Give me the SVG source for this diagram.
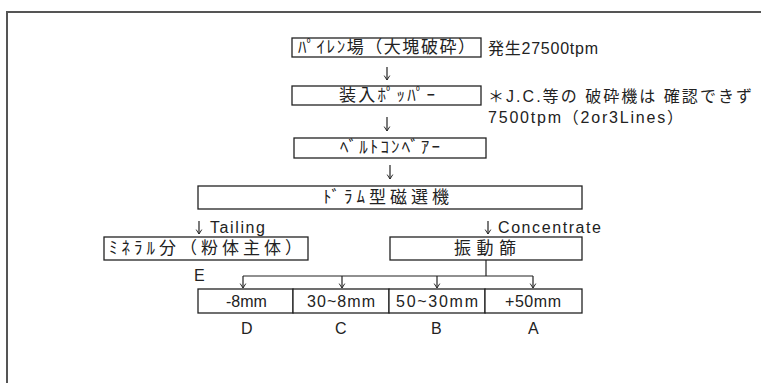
<svg xmlns="http://www.w3.org/2000/svg" width="761" height="383" viewBox="0 0 761 383">
<defs>
<style>
.box{fill:#fff;stroke:#222;stroke-width:1.3}
.t{font-family:"Liberation Sans","Noto Sans CJK JP",sans-serif;font-size:16px;fill:#222}
.j{font-size:17px}
.ln{stroke:#222;stroke-width:1.2;fill:none}
</style>
<marker id="ah" viewBox="0 0 10 10" refX="9" refY="5" markerWidth="8" markerHeight="8" orient="auto" markerUnits="userSpaceOnUse">
<path d="M3.5,1.5 L9,5 L3.5,8.5" fill="none" stroke="#222" stroke-width="1.2"/>
</marker>
</defs>
<rect width="761" height="383" fill="#fff"/>
<path d="M7,390 V12 H770" fill="none" stroke="#555" stroke-width="2"/>

<g id="n1"><rect class="box" x="292" y="38" width="189" height="19"/><text class="t j" x="298" y="53" textLength="177" lengthAdjust="spacing">ﾊﾟｲﾚﾝ場（大塊破砕）</text></g>
<g id="n1note"><text class="t" x="488" y="54" textLength="110" lengthAdjust="spacing">発生27500tpm</text></g>
<g id="n2"><rect class="box" x="292" y="86" width="189" height="19"/><text class="t j" x="339" y="101" textLength="96" lengthAdjust="spacing">装入ﾎﾟｯﾊﾟｰ</text></g>
<g id="n2note"><text class="t" x="488" y="102" textLength="264" lengthAdjust="spacing">＊J.C.等の 破砕機は 確認できず</text><text class="t" x="488" y="123" textLength="195" lengthAdjust="spacing">7500tpm（2or3Lines）</text></g>
<g id="n3"><rect class="box" x="294" y="138" width="192" height="20"/><text class="t j" x="340" y="153" textLength="100" lengthAdjust="spacing">ﾍﾞﾙﾄｺﾝﾍﾞｱｰ</text></g>
<g id="n4"><rect class="box" x="198" y="186" width="384" height="23"/><text class="t j" x="323" y="203" textLength="126" lengthAdjust="spacing">ﾄﾞﾗﾑ型磁選機</text></g>
<g id="n5"><rect class="box" x="104" y="237" width="204" height="23"/><text class="t j" x="109" y="254" textLength="193" lengthAdjust="spacing">ﾐﾈﾗﾙ分（粉体主体）</text><text class="t" x="194" y="281">E</text></g>
<g id="n6"><rect class="box" x="390" y="237" width="192" height="23"/><text class="t j" x="454" y="254" textLength="62" lengthAdjust="spacing">振動篩</text></g>
<g id="n7">
<rect class="box" x="198" y="289" width="95" height="24"/>
<rect class="box" x="293" y="289" width="96" height="24"/>
<rect class="box" x="389" y="289" width="96" height="24"/>
<rect class="box" x="485" y="289" width="97" height="24"/>
<text class="t" x="226" y="307">-8mm</text>
<text class="t" x="307" y="307" textLength="68" lengthAdjust="spacing">30~8mm</text>
<text class="t" x="396" y="307" textLength="82" lengthAdjust="spacing">50~30mm</text>
<text class="t" x="505" y="307" textLength="56" lengthAdjust="spacing">+50mm</text>
<text class="t" x="241" y="334">D</text>
<text class="t" x="335" y="334">C</text>
<text class="t" x="431" y="334">B</text>
<text class="t" x="528" y="334">A</text>
</g>
<g id="connectors">
<path class="ln" d="M387,67 V80" marker-end="url(#ah)"/>
<path class="ln" d="M387,117 V131" marker-end="url(#ah)"/>
<path class="ln" d="M390,165 V179" marker-end="url(#ah)"/>
<path class="ln" d="M199,221 V234" marker-end="url(#ah)"/>
<text class="t" x="210" y="233" textLength="55" lengthAdjust="spacing">Tailing</text>
<path class="ln" d="M488,221 V234" marker-end="url(#ah)"/>
<text class="t" x="498" y="233" textLength="103" lengthAdjust="spacing">Concentrate</text>
<path class="ln" d="M486,260 V276"/>
<path class="ln" d="M243,276 H533"/>
<path class="ln" d="M243,276 V288" marker-end="url(#ah)"/>
<path class="ln" d="M342,276 V288" marker-end="url(#ah)"/>
<path class="ln" d="M437,276 V288" marker-end="url(#ah)"/>
<path class="ln" d="M533,276 V288" marker-end="url(#ah)"/>
</g>
</svg>
